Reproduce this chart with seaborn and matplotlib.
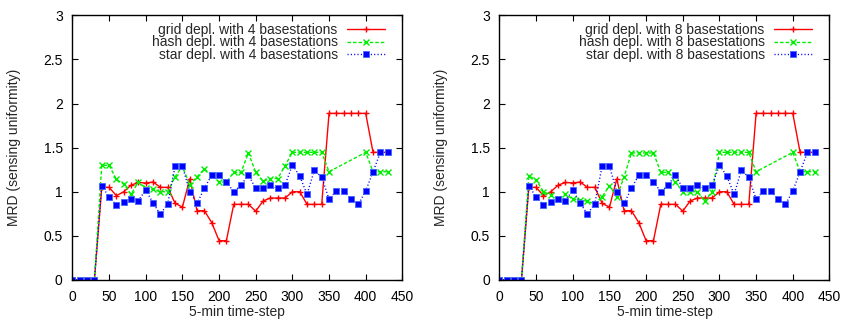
import numpy as np
import pandas as pd
import matplotlib
matplotlib.use("Agg")
import matplotlib.pyplot as plt
import seaborn as sns

# ---------------- data ----------------
time_steps = list(range(0, 440, 10))

grid_vals = [0, 0, 0, 0,
             1.05, 1.05, 0.955, 1.0, 1.075, 1.105, 1.10, 1.11, 1.05, 1.05,
             0.87, 0.825, 1.145, 0.785, 0.785, 0.65, 0.445, 0.445, 0.857, 0.857,
             0.857, 0.78, 0.895, 0.929, 0.929, 0.929, 1.0, 1.0, 0.857, 0.857,
             0.857, 1.889, 1.889, 1.889, 1.889, 1.889, 1.889, 1.447, 1.447, 1.447]

star_vals = [0, 0, 0, 0,
             1.068, 0.94, 0.85, 0.88, 0.914, 0.9, 1.02, 0.872, 0.745, 0.865,
             1.29, 1.29, 1.0, 0.868, 1.04, 1.19, 1.19, 1.112, 1.0, 1.076,
             1.19, 1.038, 1.038, 1.076, 1.038, 1.076, 1.303, 1.178, 0.97, 1.246,
             1.163, 0.917, 1.008, 1.008, 0.917, 0.857, 1.008, 1.227, 1.447, 1.447]

hash_times = list(range(0, 360, 10)) + [400, 410, 420, 430]

hash4_vals = [0, 0, 0, 0,
              1.30, 1.30, 1.14, 1.087, 0.97, 1.113, 1.04, 1.027, 1.0, 1.0,
              1.17, 1.29, 1.076, 1.17, 1.257, 1.19, 1.11, 1.11, 1.22, 1.22,
              1.44, 1.22, 1.12, 1.15, 1.15, 1.295, 1.447, 1.447, 1.447, 1.447,
              1.447, 1.227, 1.447, 1.227, 1.227, 1.227]

hash8_vals = [0, 0, 0, 0,
              1.18, 1.135, 1.0, 0.963, 0.914, 0.974, 0.914, 0.91, 0.89, 0.865,
              0.943, 1.068, 0.943, 1.17, 1.44, 1.44, 1.44, 1.44, 1.22, 1.22,
              1.11, 1.0, 1.0, 1.0, 0.895, 1.0, 1.447, 1.447, 1.447, 1.447,
              1.447, 1.227, 1.447, 1.227, 1.227, 1.227]

x_ticks = list(range(0, 451, 50))
y_ticks = [0, 0.5, 1, 1.5, 2, 2.5, 3]
y_tick_labels = ["0", "0.5", "1", "1.5", "2", "2.5", "3"]
x_label = "5-min time-step"
y_label = "MRD (sensing uniformity)"

# ---------------- style ----------------
sns.set_theme(style="ticks")
plt.rcParams["font.family"] = ["Liberation Sans", "DejaVu Sans"]
plt.rcParams["font.size"] = 10
plt.rcParams["axes.linewidth"] = 1.0

fig = plt.figure(figsize=(8.43, 3.21), dpi=100)
ax1 = fig.add_axes([0.0859, 0.128, 0.3914, 0.824])
ax2 = fig.add_axes([0.5925, 0.128, 0.3914, 0.824])

panels = [(ax1, hash4_vals, "4"), (ax2, hash8_vals, "8")]

RED, GREEN, BLUE = "#ff0000", "#00ee00", "#0000ff"

for ax, hash_vals, n in panels:
    sns.lineplot(x=time_steps, y=grid_vals, ax=ax, color=RED,
                 marker="+", markersize=5, markeredgewidth=1.0,
                 markeredgecolor=RED, markerfacecolor=RED,
                 linewidth=1.0, linestyle="-",
                 label=f"grid depl. with {n} basestations")
    sns.lineplot(x=hash_times, y=hash_vals, ax=ax, color=GREEN,
                 marker="x", markersize=4, markeredgewidth=1.0,
                 markeredgecolor=GREEN, markerfacecolor=GREEN,
                 linewidth=1.0, linestyle=(0, (2.5, 1.5)),
                 label=f"hash depl. with {n} basestations")
    sns.lineplot(x=time_steps, y=star_vals, ax=ax, color=BLUE,
                 marker="s", markersize=4, markeredgewidth=0.6,
                 markeredgecolor="#4466ff", markerfacecolor=BLUE,
                 linewidth=1.0, linestyle=(0, (0.8, 1.6)),
                 label=f"star depl. with {n} basestations")

    ax.set_xlim(0, 450)
    ax.set_ylim(0, 3)
    ax.set_xticks(x_ticks)
    ax.set_yticks(y_ticks)
    ax.set_yticklabels(y_tick_labels)
    ax.tick_params(direction="in", top=True, right=True, length=4,
                   width=0.8, labelsize=10, colors="black")
    ax.tick_params(axis="x", pad=7)
    ax.tick_params(axis="y", pad=7)
    ax.set_xlabel(x_label, fontsize=10, labelpad=1)
    ax.set_ylabel(y_label, fontsize=10, labelpad=16)
    for sp in ax.spines.values():
        sp.set_visible(True)
        sp.set_color("black")
        sp.set_linewidth(1.0)

    leg = ax.legend(loc="upper right", bbox_to_anchor=(0.947, 0.972),
                    frameon=False, markerfirst=False, borderaxespad=0,
                    borderpad=0, handlelength=2.7, handletextpad=0.7,
                    labelspacing=-0.1, fontsize=10)

fig.savefig("out.png", dpi=100)
